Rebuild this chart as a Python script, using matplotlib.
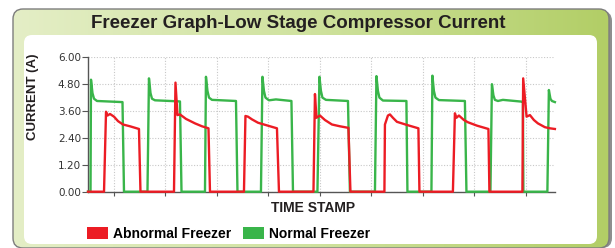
import numpy as np
import matplotlib
matplotlib.use("Agg")
import matplotlib.pyplot as plt
from matplotlib.patches import FancyBboxPatch, Patch
from matplotlib.colors import LinearSegmentedColormap

# font: narrow bold like the reference, fall back if missing
narrow = ['Liberation Sans Narrow', 'Liberation Sans', 'DejaVu Sans']

# time stamps (minutes) and current (A) for the normal freezer
normal_t = [0, 0.49, 0.58, 0.87, 1.17, 1.75, 6.70, 6.99,
            11.55, 11.84, 12.14, 12.43, 13.01, 17.86, 18.16,
            22.72, 22.91, 23.20, 23.50, 24.08, 28.74, 29.03,
            33.59, 33.88, 34.17, 34.47, 35.15, 36.50, 39.51, 39.81,
            44.56, 44.95, 45.24, 45.53, 46.21, 50.49, 50.87,
            55.73, 56.02, 56.31, 56.60, 57.28, 61.84, 62.04,
            66.70, 66.89, 67.18, 67.48, 68.16, 73.20, 73.50,
            78.16, 78.45, 78.74, 79.03, 79.61, 80.58, 84.27, 84.47, 84.56,
            89.22, 89.51, 89.81, 90.10, 90.68]
normal_a = [0, 0, 5.00, 4.40, 4.15, 4.05, 4.00, 0,
            0, 5.06, 4.40, 4.15, 4.08, 4.03, 0,
            0, 5.13, 4.50, 4.20, 4.10, 4.05, 0,
            0, 5.13, 4.50, 4.20, 4.08, 4.12, 4.05, 0,
            0, 5.13, 4.50, 4.20, 4.10, 4.05, 0,
            0, 5.16, 4.50, 4.20, 4.07, 4.05, 0,
            0, 5.18, 4.50, 4.20, 4.09, 4.05, 0,
            0, 4.80, 4.30, 4.10, 4.05, 4.10, 4.02, 4.00, 0,
            0, 4.54, 4.15, 4.05, 4.00]

# time stamps (minutes) and current (A) for the abnormal freezer
abnormal_t = [0, 3.11, 3.50, 3.79, 4.27, 5.05, 5.83, 6.80, 8.16, 9.90, 10.19,
              16.70, 16.99, 17.38, 17.86, 19.03, 20.78, 22.14, 23.40, 23.69,
              30.29, 30.58, 31.07, 31.84, 33.01, 34.17, 36.70, 37.09,
              43.79, 44.08, 44.37, 45.05, 46.02, 47.38, 48.93, 50.58, 50.97,
              57.57, 57.67, 58.25, 58.64, 59.22, 60.00, 61.94, 64.17, 64.37,
              70.87, 71.26, 71.55, 72.04, 73.01, 73.79, 75.53, 77.77, 77.96,
              84.37, 84.52, 85.18, 85.83, 86.60, 87.38, 88.74, 89.71, 90.68]
abnormal_a = [0, 0, 3.57, 3.40, 3.47, 3.35, 3.15, 3.00, 2.92, 2.80, 0,
              0, 4.87, 3.42, 3.45, 3.25, 3.05, 2.92, 2.83, 0,
              0, 3.38, 3.35, 3.23, 3.08, 3.00, 2.83, 0,
              0, 4.36, 3.30, 3.40, 3.20, 3.00, 2.92, 2.85, 0,
              0, 3.00, 3.40, 3.45, 3.30, 3.12, 2.98, 2.83, 0,
              0, 3.50, 3.30, 3.40, 3.20, 3.10, 2.95, 2.80, 0,
              0, 5.06, 3.35, 3.42, 3.20, 3.05, 2.88, 2.83, 2.80]

y_ticks = [0, 1.2, 2.4, 3.6, 4.8, 6.0]
x_ticks = [5, 15, 25, 35, 45, 55, 65, 75, 85]

red = '#ec1c24'
green = '#39b54a'

fig = plt.figure(figsize=(6.15, 2.48), dpi=100)

# background panel drawn in pixel coords
bg = fig.add_axes([0, 0, 1, 1])
bg.set_xlim(0, 615)
bg.set_ylim(248, 0)
bg.axis('off')

shadow = FancyBboxPatch((16, 11), 596, 237, boxstyle='round,pad=0,rounding_size=10',
                        fc='#8e8e8e', ec='none', zorder=0)
bg.add_patch(shadow)
frame = FancyBboxPatch((13, 9), 596, 239, boxstyle='round,pad=0,rounding_size=10',
                       fc='none', ec='#7d7d7d', lw=1.0, zorder=2)
bg.add_patch(frame)
cmap = LinearSegmentedColormap.from_list('frame', ['#e4eec6', '#cfe29e', '#b2ce66'])
grad = np.linspace(0, 1, 256).reshape(1, -1)
im = bg.imshow(grad, extent=[13, 609, 248, 9], cmap=cmap, aspect='auto', zorder=1)
im.set_clip_path(frame)
inner = FancyBboxPatch((24, 35), 573, 209, boxstyle='round,pad=0,rounding_size=8',
                       fc='white', ec='none', zorder=3)
bg.add_patch(inner)

bg.text(298, 23, 'Freezer Graph-Low Stage Compressor Current', ha='center', va='center',
        fontsize=13.5, fontweight='bold', color='#231f20', family=narrow, zorder=4)
bg.text(33, 97, 'CURRENT (A)', rotation=90, ha='center', va='center',
        fontsize=9.5, fontweight='bold', color='#231f20', family=narrow, zorder=4)
bg.text(313, 208, 'TIME STAMP', ha='center', va='center',
        fontsize=10, fontweight='bold', color='#231f20', family=narrow, zorder=4)

# chart area
ax = fig.add_axes([88 / 615, (248 - 191.7) / 248, 467 / 615, 134.4 / 248])
ax.patch.set_alpha(0)
ax.plot(normal_t, normal_a, color=green, lw=1.7, clip_on=False, zorder=3)
ax.plot(abnormal_t, abnormal_a, color=red, lw=1.7, clip_on=False, zorder=4)
ax.set_xlim(0, 90.7)
ax.set_ylim(0, 6)
ax.set_yticks(y_ticks)
ax.set_yticklabels(['%.2f' % v for v in y_ticks])
ax.set_xticks(x_ticks)
ax.set_xticklabels([])
ax.grid(True, ls=(0, (1, 1.5)), color='#c8c8c8', lw=0.8)
for s in ['top', 'right']:
    ax.spines[s].set_visible(False)
for s in ['left', 'bottom']:
    ax.spines[s].set_color('#555555')
    ax.spines[s].set_linewidth(1.0)
ax.tick_params(axis='y', length=4, color='#555555', labelsize=7.5, labelcolor='#333333', pad=1)
ax.tick_params(axis='x', length=3, color='#555555')

handles = [Patch(fc=red, ec='none'), Patch(fc=green, ec='none')]
fig.legend(handles, ['Abnormal Freezer', 'Normal Freezer'], loc='center left',
           bbox_to_anchor=(87 / 615, (248 - 234) / 248), ncol=2, frameon=False,
           prop={'weight': 'bold', 'size': 10, 'family': narrow},
           handlelength=1.5, handleheight=0.9, handletextpad=0.4,
           columnspacing=0.8, borderaxespad=0, borderpad=0)

fig.savefig('out.png', dpi=100)
